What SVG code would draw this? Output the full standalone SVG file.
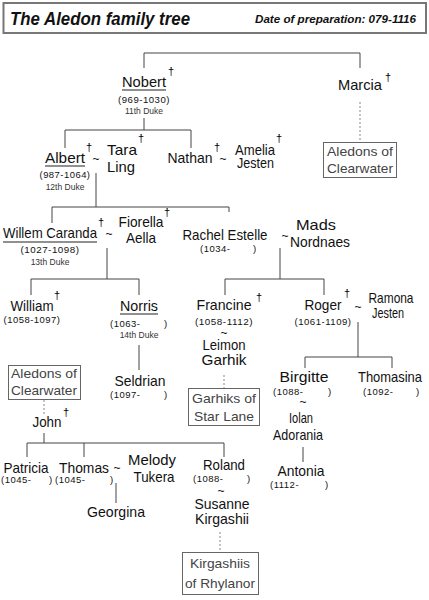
<svg xmlns="http://www.w3.org/2000/svg" width="429" height="600" viewBox="0 0 429 600">
<style>
text{font-family:"Liberation Sans","DejaVu Sans",sans-serif;fill:#111}
.n{font-size:15px}
.m{text-anchor:middle}
.y{font-size:9.5px;letter-spacing:0.5px}
.d{font-size:8.5px;fill:#333;text-anchor:middle}
.x{font-size:11px;text-anchor:middle;fill:#000}
.t{font-size:12px;text-anchor:middle}
.b{font-size:13px;fill:#444;text-anchor:middle}
.c{stroke:#444;stroke-width:1;fill:none}
.u{stroke:#222;stroke-width:1.2}
.dot{stroke:#888;stroke-width:1;stroke-dasharray:2,2;fill:none}
.box{fill:#fff;stroke:#666;stroke-width:1}
</style>
<rect width="429" height="600" fill="#fff"/>
<g id="header">
<rect x="3.5" y="3" width="422.5" height="30" fill="#fff" stroke="#777" stroke-width="2"/>
<text x="10" y="25" style="font-size:18px;font-weight:bold;font-style:italic" textLength="180" lengthAdjust="spacingAndGlyphs">The Aledon family tree</text>
<text x="416" y="23" style="font-size:11px;font-weight:bold;font-style:italic;text-anchor:end" textLength="161" lengthAdjust="spacingAndGlyphs">Date of preparation: 079-1116</text>
</g>
<g id="connectors">
<path class="c" d="M144,68V53H360V68"/>
<path class="c" d="M144,118V130M65,148V130H191V148"/>
<path class="c" d="M96,173V207M52,223V207H229V212"/>
<path class="c" d="M107,248V279M31,295V279H139V295"/>
<path class="c" d="M280,248V279M225,295V279H324V295"/>
<path class="c" d="M358,322V357M305,368V357H392V368"/>
<path class="c" d="M139,345V370"/>
<path class="c" d="M303,447V462"/>
<path class="c" d="M44,433V443M27,457V443H224V457M84,443V457"/>
<path class="c" d="M116,483V503"/>
<path class="dot" d="M360,102V142"/>
<path class="dot" d="M224,375V388"/>
<path class="dot" d="M220,532V552"/>
<path class="dot" d="M44,400V416"/>
</g>
<g id="nobert">
<text class="n m" x="144" y="87" textLength="44" lengthAdjust="spacingAndGlyphs">Nobert</text>
<line class="u" x1="122" y1="90" x2="166" y2="90"/>
<text class="x" x="171" y="75">†</text>
<text class="y m" x="144" y="103" textLength="52" lengthAdjust="spacingAndGlyphs">(969-1030)</text>
<text class="d" x="144" y="114">11th Duke</text>
</g>
<g id="marcia">
<text class="n m" x="360" y="90" textLength="44" lengthAdjust="spacingAndGlyphs">Marcia</text>
<text class="x" x="388" y="81">†</text>
</g>
<g id="clearwater-right">
<rect class="box" x="323.5" y="142.5" width="73" height="35"/>
<text class="b" x="360" y="156" textLength="66" lengthAdjust="spacingAndGlyphs">Aledons of</text>
<text class="b" x="360" y="173" textLength="66" lengthAdjust="spacingAndGlyphs">Clearwater</text>
</g>
<g id="albert">
<text class="n m" x="65" y="163" textLength="40" lengthAdjust="spacingAndGlyphs">Albert</text>
<line class="u" x1="45" y1="166" x2="85" y2="166"/>
<text class="x" x="89" y="151">†</text>
<text class="t" x="96" y="163">~</text>
<text class="y m" x="65" y="178" textLength="51" lengthAdjust="spacingAndGlyphs">(987-1064)</text>
<text class="d" x="65" y="190">12th Duke</text>
</g>
<g id="tara">
<text class="n" x="107" y="155" textLength="30" lengthAdjust="spacingAndGlyphs">Tara</text>
<text class="n" x="107" y="172" textLength="28" lengthAdjust="spacingAndGlyphs">Ling</text>
<text class="x" x="141" y="142">†</text>
</g>
<g id="nathan">
<text class="n m" x="190" y="163" textLength="45" lengthAdjust="spacingAndGlyphs">Nathan</text>
<text class="x" x="217" y="151">†</text>
<text class="t" x="223" y="163">~</text>
</g>
<g id="amelia">
<text class="n" x="235" y="155" textLength="40" lengthAdjust="spacingAndGlyphs">Amelia</text>
<text class="n" x="237" y="168" textLength="37" lengthAdjust="spacingAndGlyphs">Jesten</text>
<text class="x" x="279" y="142">†</text>
</g>
<g id="willem">
<text class="n m" x="50" y="238" textLength="94" lengthAdjust="spacingAndGlyphs">Willem Caranda</text>
<line class="u" x1="3" y1="242" x2="97" y2="242"/>
<text class="x" x="101" y="226">†</text>
<text class="t" x="109" y="238">~</text>
<text class="y m" x="50" y="253" textLength="59" lengthAdjust="spacingAndGlyphs">(1027-1098)</text>
<text class="d" x="50" y="265">13th Duke</text>
</g>
<g id="fiorella">
<text class="n m" x="141" y="227" textLength="45" lengthAdjust="spacingAndGlyphs">Fiorella</text>
<text class="n m" x="141" y="243" textLength="30" lengthAdjust="spacingAndGlyphs">Aella</text>
<text class="x" x="167" y="216">†</text>
</g>
<g id="rachel">
<text class="n m" x="225" y="240" textLength="85" lengthAdjust="spacingAndGlyphs">Rachel Estelle</text>
<text class="t" x="285" y="240">~</text>
<text class="y" x="200" y="252">(1034-</text>
<text class="y" x="253" y="252">)</text>
</g>
<g id="mads">
<text class="n m" x="316" y="230" textLength="40" lengthAdjust="spacingAndGlyphs">Mads</text>
<text class="n m" x="320" y="247" textLength="60" lengthAdjust="spacingAndGlyphs">Nordnaes</text>
</g>
<g id="william">
<text class="n m" x="32" y="311" textLength="43" lengthAdjust="spacingAndGlyphs">William</text>
<text class="x" x="57" y="299">†</text>
<text class="y m" x="32" y="323" textLength="57" lengthAdjust="spacingAndGlyphs">(1058-1097)</text>
</g>
<g id="norris">
<text class="n m" x="139" y="311" textLength="38" lengthAdjust="spacingAndGlyphs">Norris</text>
<line class="u" x1="120" y1="314" x2="158" y2="314"/>
<text class="y" x="110" y="327">(1063-</text>
<text class="y" x="164" y="327">)</text>
<text class="d" x="139" y="338">14th Duke</text>
</g>
<g id="seldrian">
<text class="n m" x="140" y="386" textLength="51" lengthAdjust="spacingAndGlyphs">Seldrian</text>
<text class="y" x="110" y="398">(1097-</text>
<text class="y" x="164" y="398">)</text>
</g>
<g id="francine">
<text class="n m" x="224" y="310" textLength="55" lengthAdjust="spacingAndGlyphs">Francine</text>
<text class="x" x="259" y="301">†</text>
<text class="y m" x="224" y="325" textLength="58" lengthAdjust="spacingAndGlyphs">(1058-1112)</text>
<text class="t" x="224" y="337">~</text>
</g>
<g id="leimon">
<text class="n m" x="224" y="350" textLength="43" lengthAdjust="spacingAndGlyphs">Leimon</text>
<text class="n m" x="224" y="365" textLength="45" lengthAdjust="spacingAndGlyphs">Garhik</text>
</g>
<g id="garhiks">
<rect class="box" x="188.5" y="388.5" width="71" height="37"/>
<text class="b" x="224" y="403" textLength="64" lengthAdjust="spacingAndGlyphs">Garhiks of</text>
<text class="b" x="224" y="421" textLength="60" lengthAdjust="spacingAndGlyphs">Star Lane</text>
</g>
<g id="roger">
<text class="n m" x="323" y="310" textLength="37" lengthAdjust="spacingAndGlyphs">Roger</text>
<text class="x" x="347" y="297">†</text>
<text class="t" x="358" y="311">~</text>
<text class="y m" x="323" y="325" textLength="57" lengthAdjust="spacingAndGlyphs">(1061-1109)</text>
</g>
<g id="ramona">
<text class="n m" x="391" y="303" textLength="45" lengthAdjust="spacingAndGlyphs">Ramona</text>
<text class="n m" x="388" y="318" textLength="32" lengthAdjust="spacingAndGlyphs">Jesten</text>
</g>
<g id="birgitte">
<text class="n m" x="304" y="382" textLength="49" lengthAdjust="spacingAndGlyphs">Birgitte</text>
<text class="y" x="273" y="395">(1088-</text>
<text class="y" x="328" y="395">)</text>
<text class="t" x="303" y="406">~</text>
</g>
<g id="iolan">
<text class="n m" x="301" y="423" textLength="24" lengthAdjust="spacingAndGlyphs">Iolan</text>
<text class="n m" x="298" y="440" textLength="50" lengthAdjust="spacingAndGlyphs">Adorania</text>
</g>
<g id="antonia">
<text class="n m" x="301" y="476" textLength="47" lengthAdjust="spacingAndGlyphs">Antonia</text>
<text class="y" x="270" y="488">(1112-</text>
<text class="y" x="325" y="488">)</text>
</g>
<g id="thomasina">
<text class="n m" x="390" y="382" textLength="64" lengthAdjust="spacingAndGlyphs">Thomasina</text>
<text class="y" x="363" y="395">(1092-</text>
<text class="y" x="416" y="395">)</text>
</g>
<g id="clearwater-left">
<rect class="box" x="8.5" y="365.5" width="72" height="34"/>
<text class="b" x="44" y="378" textLength="66" lengthAdjust="spacingAndGlyphs">Aledons of</text>
<text class="b" x="44" y="395" textLength="66" lengthAdjust="spacingAndGlyphs">Clearwater</text>
</g>
<g id="john">
<text class="n m" x="47" y="427" textLength="29" lengthAdjust="spacingAndGlyphs">John</text>
<text class="x" x="66" y="416">†</text>
</g>
<g id="patricia">
<text class="n m" x="26" y="473" textLength="45" lengthAdjust="spacingAndGlyphs">Patricia</text>
<text class="y" x="1" y="483">(1045-</text>
<text class="y" x="49" y="483">)</text>
</g>
<g id="thomas">
<text class="n m" x="84" y="473" textLength="50" lengthAdjust="spacingAndGlyphs">Thomas</text>
<text class="t" x="117" y="472">~</text>
<text class="y" x="55" y="483">(1045-</text>
<text class="y" x="110" y="483">)</text>
</g>
<g id="melody">
<text class="n m" x="152" y="465" textLength="48" lengthAdjust="spacingAndGlyphs">Melody</text>
<text class="n m" x="154" y="482" textLength="41" lengthAdjust="spacingAndGlyphs">Tukera</text>
</g>
<g id="georgina">
<text class="n m" x="116" y="517" textLength="58" lengthAdjust="spacingAndGlyphs">Georgina</text>
</g>
<g id="roland">
<text class="n m" x="224" y="470" textLength="42" lengthAdjust="spacingAndGlyphs">Roland</text>
<text class="y" x="193" y="482">(1088-</text>
<text class="y" x="247" y="482">)</text>
<text class="t" x="221" y="495">~</text>
</g>
<g id="susanne">
<text class="n m" x="222" y="509" textLength="55" lengthAdjust="spacingAndGlyphs">Susanne</text>
<text class="n m" x="222" y="524" textLength="54" lengthAdjust="spacingAndGlyphs">Kirgashii</text>
</g>
<g id="kirgashiis">
<rect class="box" x="182.5" y="552.5" width="76" height="42"/>
<text class="b" x="220" y="568" textLength="60" lengthAdjust="spacingAndGlyphs">Kirgashiis</text>
<text class="b" x="220" y="588" textLength="70" lengthAdjust="spacingAndGlyphs">of Rhylanor</text>
</g>
</svg>
